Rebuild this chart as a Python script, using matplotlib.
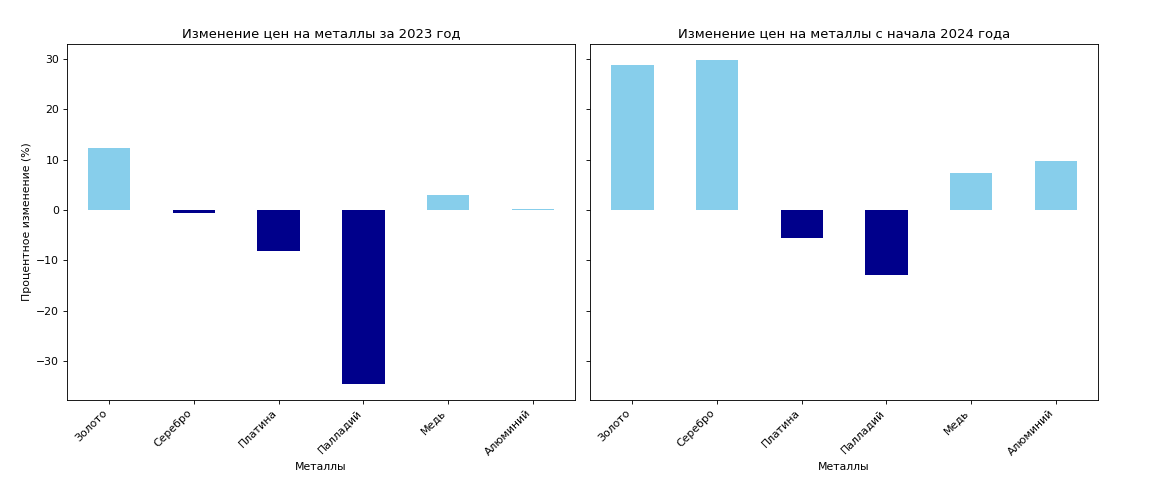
import numpy as np
from matplotlib import pyplot as plt

metals = ['Золото', 'Серебро', 'Платина', 'Палладий', 'Медь', 'Алюминий']
change_2023 = [12.2, -0.7, -8.1, -34.5, 3.0, 0.2]
change_2024 = [28.8, 29.7, -5.6, -12.9, 7.3, 9.8]

titles = ['Изменение цен на металлы за 2023 год',
          'Изменение цен на металлы с начала 2024 года']

DPI = 78.6
fig, axes = plt.subplots(1, 2, figsize=(1167 / DPI, 495 / DPI), dpi=DPI, sharey=True)
fig.subplots_adjust(left=0.0574, right=0.9409, top=0.911, bottom=0.192, wspace=0.0295)

x = np.arange(len(metals))
for ax, vals, title in zip(axes, [change_2023, change_2024], titles):
    colors = ['skyblue' if v >= 0 else 'darkblue' for v in vals]
    ax.bar(x, vals, width=0.5, color=colors)
    ax.set_xlim(-0.5, len(metals) - 0.5)
    ax.set_xticks(x)
    ax.set_xticklabels(metals, rotation=45, ha='right')
    ax.set_title(title)
    ax.set_xlabel('Металлы')

axes[0].set_ylabel('Процентное изменение (%)')

plt.savefig('out.png', dpi=DPI)
